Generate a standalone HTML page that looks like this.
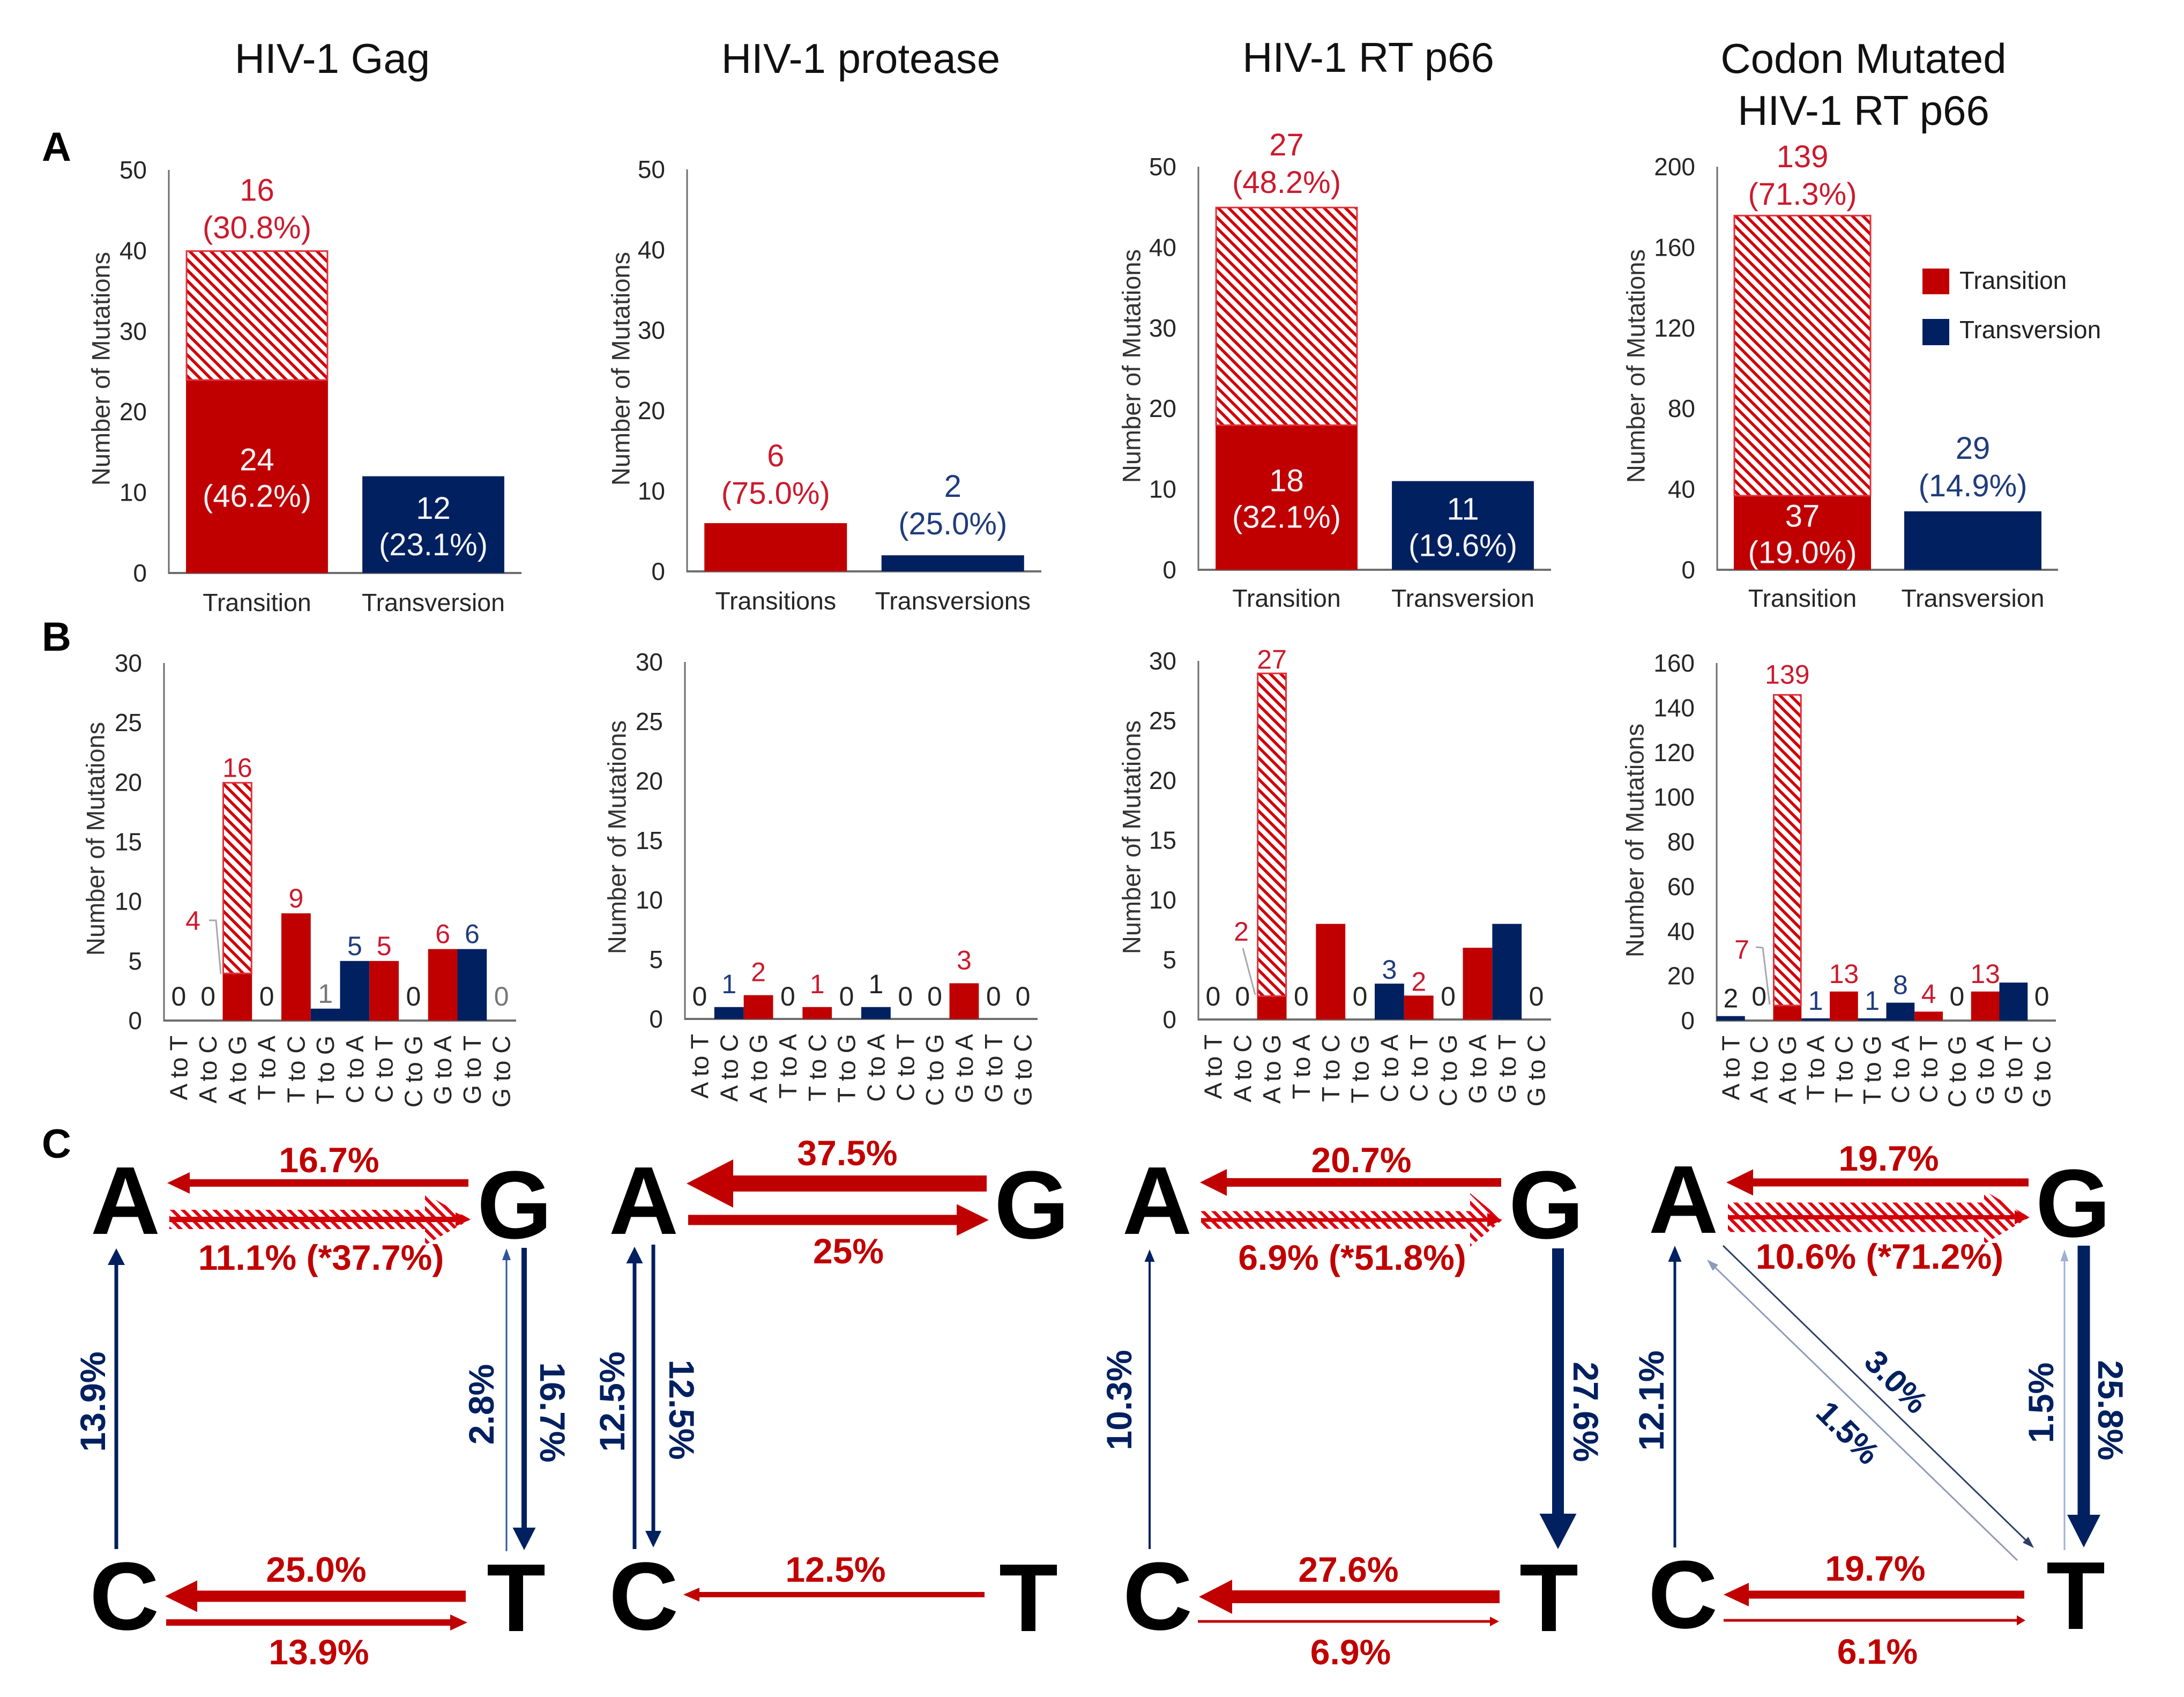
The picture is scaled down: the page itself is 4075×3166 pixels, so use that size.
<!DOCTYPE html>
<html lang="en">
<head>
<meta charset="utf-8">
<title>HIV-1 mutation spectra</title>
<style>
html,body{margin:0;padding:0;background:#fff;}
svg{display:block;}
text{font-family:"Liberation Sans",Arial,sans-serif;}
</style>
</head>
<body>
<svg id="figure" xmlns="http://www.w3.org/2000/svg" width="4075" height="3166" viewBox="0 0 4075 3166">
  <defs>
    <pattern id="hatch" patternUnits="userSpaceOnUse" width="14" height="14" patternTransform="rotate(-45)">
      <rect width="14" height="14" fill="#ffffff"/>
      <rect width="5.5" height="14" fill="#d00008"/>
    </pattern>
    <pattern id="hatch-arrow" patternUnits="userSpaceOnUse" width="14" height="14" patternTransform="rotate(-45)">
      <rect width="14" height="14" fill="#ffffff"/>
      <rect width="6" height="14" fill="#e00010"/>
    </pattern>
  </defs>
  <g font-size="78" fill="#111" text-anchor="middle">
    <text x="620" y="136">HIV-1 Gag</text>
    <text x="1606" y="136">HIV-1 protease</text>
    <text x="2553" y="134">HIV-1 RT p66</text>
    <text x="3477" y="136">Codon Mutated</text>
    <text x="3477" y="233">HIV-1 RT p66</text>
  </g>
  <g font-size="76" font-weight="700" fill="#000">
    <text x="78" y="300">A</text>
    <text x="78" y="1214">B</text>
    <text x="78" y="2160">C</text>
  </g>
  <g font-size="46" fill="#222">
    <rect x="3587" y="501" width="50" height="48" fill="#c00000"/>
    <text x="3656" y="539">Transition</text>
    <rect x="3587" y="595" width="50" height="49" fill="#002060"/>
    <text x="3656" y="631">Transversion</text>
  </g>
  <g id="charts"></g>
  <g id="diagrams"></g>
</svg>
<script>
// ---------- Row A data ----------
const gagACategories = ['Transition', 'Transversion'];
const gagASolid = [24, 12];
const gagAHatched = [16, 0];
const gagATicks = [0, 10, 20, 30, 40, 50];

const proteaseACategories = ['Transitions', 'Transversions'];
const proteaseASolid = [6, 2];
const proteaseAHatched = [0, 0];
const proteaseATicks = [0, 10, 20, 30, 40, 50];

const rtACategories = ['Transition', 'Transversion'];
const rtASolid = [18, 11];
const rtAHatched = [27, 0];
const rtATicks = [0, 10, 20, 30, 40, 50];

const codonACategories = ['Transition', 'Transversion'];
const codonASolid = [37, 29];
const codonAHatched = [139, 0];
const codonATicks = [0, 40, 80, 120, 160, 200];

// ---------- Row B data ----------
const mutationCategories = ['A to T', 'A to C', 'A to G', 'T to A', 'T to C', 'T to G', 'C to A', 'C to T', 'C to G', 'G to A', 'G to T', 'G to C'];
const mutationKinds = ['v', 'v', 's', 'v', 's', 'v', 'v', 's', 'v', 's', 'v', 'v'];

const gagBSolid = [0, 0, 4, 0, 9, 1, 5, 5, 0, 6, 6, 0];
const gagBHatched = [0, 0, 16, 0, 0, 0, 0, 0, 0, 0, 0, 0];
const gagBLabels = ['0', '0', '16', '0', '9', '1', '5', '5', '0', '6', '6', '0'];
const gagBTicks = [0, 5, 10, 15, 20, 25, 30];

const proteaseBSolid = [0, 1, 2, 0, 1, 0, 1, 0, 0, 3, 0, 0];
const proteaseBHatched = [0, 0, 0, 0, 0, 0, 0, 0, 0, 0, 0, 0];
const proteaseBLabels = ['0', '1', '2', '0', '1', '0', '1', '0', '0', '3', '0', '0'];
const proteaseBTicks = [0, 5, 10, 15, 20, 25, 30];

const rtBSolid = [0, 0, 2, 0, 8, 0, 3, 2, 0, 6, 8, 0];
const rtBHatched = [0, 0, 27, 0, 0, 0, 0, 0, 0, 0, 0, 0];
const rtBLabels = ['0', '0', '27', '0', '', '0', '3', '2', '0', '', '', '0'];
const rtBTicks = [0, 5, 10, 15, 20, 25, 30];

const codonBSolid = [2, 0, 7, 1, 13, 1, 8, 4, 0, 13, 17, 0];
const codonBHatched = [0, 0, 139, 0, 0, 0, 0, 0, 0, 0, 0, 0];
const codonBLabels = ['2', '0', '139', '1', '13', '1', '8', '4', '0', '13', '', '0'];
const codonBTicks = [0, 20, 40, 60, 80, 100, 120, 140, 160];

const RED = '#c00000', NAVY = '#002060', LRED = '#cb1a2d', LNAVY = '#1f3c7c', DARK = '#262626';
const SVGNS = 'http://www.w3.org/2000/svg';

function make(tag, parent, name, props, content) {
  const el = document.createElementNS(SVGNS, tag);
  
  
  for (const k in props) el.setAttribute(k, props[k]);
  if (content !== undefined) el.textContent = content;
  parent.appendChild(el);
  return el;
}
function label(parent, name, str, x, y, size, fill, extra) {
  return make('text', parent, name, Object.assign({x: x, y: y, 'font-size': size, fill: fill, 'text-anchor': 'middle'}, extra || {}), str);
}

function drawAxes(g, c, maxTick, ticks) {
  const y = v => c.y0 - v / maxTick * (c.y0 - c.yTop);
  ticks.forEach(t => {
    label(g, 'y-tick-' + t, String(t), c.x0 - 41, y(t), 46, DARK, {'text-anchor': 'end', 'dominant-baseline': 'central'});
  });
  make('line', g, 'y-axis', {x1: c.x0, x2: c.x0, y1: c.yTop, y2: c.y0 + 2, stroke: '#6e6e6e', 'stroke-width': 3});
  make('line', g, 'x-axis', {x1: c.x0 - 1, x2: c.x1, y1: c.y0, y2: c.y0, stroke: '#6e6e6e', 'stroke-width': 4});
  label(g, 'y-axis-title', 'Number of Mutations', 0, 0, 47, '#333', {transform: 'translate(' + c.titleX + ',' + c.titleY + ') rotate(-90)', 'dominant-baseline': 'central'});
  return y;
}

function drawRowA(name, categories, solid, hatched, ticks, c) {
  const root = document.getElementById('charts');
  const g = make('g', root, name, {});
  const y = drawAxes(g, c, ticks[ticks.length - 1], ticks);
  const step = (c.x1 - c.x0) / categories.length;
  const barW = step * 0.805;
  categories.forEach((cat, i) => {
    const cx = c.x0 + (i + 0.5) * step;
    const fill = i === 0 ? RED : NAVY;
    const textCol = i === 0 ? LRED : LNAVY;
    const solidTop = y(solid[i]);
    make('rect', g, 'bar-solid-' + cat.toLowerCase(), {x: cx - barW / 2, y: solidTop, width: barW, height: c.y0 - solidTop, fill: fill});
    let top = solidTop;
    if (hatched[i] > 0) {
      top = y(solid[i] + hatched[i]);
      make('rect', g, 'bar-hatched-' + cat.toLowerCase(), {x: cx - barW / 2 + 1, y: top + 1, width: barW - 2, height: solidTop - top, fill: 'url(#hatch)', stroke: '#e0303a', 'stroke-width': 3});
    }
    label(g, 'x-tick-' + cat.toLowerCase(), cat, cx, c.tickY, 46.5, DARK);
    const total = c.total;
    const pct = v => '(' + (v / total * 100).toFixed(1) + '%)';
    if (hatched[i] > 0) {
      label(g, 'value-hatched-' + i, String(hatched[i]), cx, top - c.lift[i] - 70, 58, textCol);
      label(g, 'percent-hatched-' + i, pct(hatched[i]), cx, top - c.lift[i], 58, textCol);
      label(g, 'value-solid-' + i, String(solid[i]), cx, (solidTop + c.y0) / 2 - 11, 58, '#f4f4f8');
      label(g, 'percent-solid-' + i, pct(solid[i]), cx, (solidTop + c.y0) / 2 + 57, 58, '#f4f4f8');
    } else if (c.inside[i]) {
      label(g, 'value-solid-' + i, String(solid[i]), cx, (solidTop + c.y0) / 2 - 11, 58, '#f4f4f8');
      label(g, 'percent-solid-' + i, pct(solid[i]), cx, (solidTop + c.y0) / 2 + 57, 58, '#f4f4f8');
    } else {
      label(g, 'value-solid-' + i, String(solid[i]), cx, top - c.lift[i] - 70, 58, textCol);
      label(g, 'percent-solid-' + i, pct(solid[i]), cx, top - c.lift[i], 58, textCol);
    }
  });
}

function drawRowB(name, solid, hatched, labels, ticks, c) {
  const root = document.getElementById('charts');
  const g = make('g', root, name, {});
  const y = drawAxes(g, c, ticks[ticks.length - 1], ticks);
  const step = (c.x1 - c.x0) / mutationCategories.length;
  mutationCategories.forEach((cat, i) => {
    const x = c.x0 + i * step;
    const cx = x + step / 2;
    const kind = mutationKinds[i];
    const slug = cat.toLowerCase().replace(/ /g, '-');
    const solidTop = y(solid[i]);
    if (solid[i] > 0) {
      make('rect', g, 'bar-' + slug, {x: x, y: solidTop, width: step, height: c.y0 - solidTop, fill: kind === 's' ? RED : NAVY});
    }
    let top = solidTop;
    if (hatched[i] > 0) {
      top = y(solid[i] + hatched[i]);
      make('rect', g, 'bar-hatched-' + slug, {x: x + 1, y: top + 1, width: step - 2, height: solidTop - top, fill: 'url(#hatch)', stroke: '#e0303a', 'stroke-width': 3});
    }
    label(g, 'x-tick-' + slug, cat, 0, 0, 46.5, DARK, {'text-anchor': 'end', 'dominant-baseline': 'central', transform: 'translate(' + cx + ',' + (c.y0 + 28) + ') rotate(-90)'});
    const str = labels[i];
    if (str !== '') {
      const zero = str === '0';
      const muted = c.muted.indexOf(i) >= 0;
      const col = muted ? '#777' : (zero ? DARK : (c.dark.indexOf(i) >= 0 ? '#222' : (kind === 's' ? LRED : LNAVY)));
      const lift = zero ? c.zeroLift : (hatched[i] > 0 ? c.hatchLift : c.lift);
      label(g, 'value-' + slug, str, cx, top - lift, 50, col);
    }
    if (hatched[i] > 0) {
      label(g, 'value-solid-' + slug, String(solid[i]), c.callout.x, c.callout.y, 50, LRED);
      make('polyline', g, 'callout-leader-' + slug, {points: c.callout.line, fill: 'none', stroke: '#a8a8a8', 'stroke-width': 3});
    }
  });
}

drawRowA('chart-a-gag', gagACategories, gagASolid, gagAHatched, gagATicks, {x0: 315, x1: 973, y0: 1069, yTop: 317, titleX: 188, titleY: 688, tickY: 1140, total: 52, lift: [23, 0], inside: [true, true]});
drawRowA('chart-a-protease', proteaseACategories, proteaseASolid, proteaseAHatched, proteaseATicks, {x0: 1282, x1: 1943, y0: 1066, yTop: 316, titleX: 1158, titleY: 688, tickY: 1137, total: 8, lift: [36, 39], inside: [false, false]});
drawRowA('chart-a-rt', rtACategories, rtASolid, rtAHatched, rtATicks, {x0: 2236, x1: 2894, y0: 1063, yTop: 311, titleX: 2111, titleY: 683, tickY: 1132, total: 56, lift: [26, 0], inside: [true, true]});
drawRowA('chart-a-codon', codonACategories, codonASolid, codonAHatched, codonATicks, {x0: 3204, x1: 3840, y0: 1063, yTop: 311, titleX: 3052, titleY: 683, tickY: 1132, total: 195, lift: [19, 28], inside: [true, false]});

drawRowB('chart-b-gag', gagBSolid, gagBHatched, gagBLabels, gagBTicks, {x0: 306, x1: 963, y0: 1904, yTop: 1237, titleX: 178, titleY: 1565, lift: 11, zeroLift: 28, hatchLift: 10, dark: [], muted: [5, 11], callout: {x: 360, y: 1735, line: '390,1717 403,1717 412,1817'}});
drawRowB('chart-b-protease', proteaseBSolid, proteaseBHatched, proteaseBLabels, proteaseBTicks, {x0: 1278, x1: 1936, y0: 1901, yTop: 1235, titleX: 1151, titleY: 1562, lift: 26, zeroLift: 25, hatchLift: 10, dark: [6], muted: []});
drawRowB('chart-b-rt', rtBSolid, rtBHatched, rtBLabels, rtBTicks, {x0: 2236, x1: 2894, y0: 1902, yTop: 1233, titleX: 2111, titleY: 1562, lift: 9, zeroLift: 26, hatchLift: 8, dark: [], muted: [], callout: {x: 2316, y: 1755, line: '2319,1769 2342,1856'}});
drawRowB('chart-b-codon', codonBSolid, codonBHatched, codonBLabels, codonBTicks, {x0: 3203, x1: 3836, y0: 1904, yTop: 1237, titleX: 3050, titleY: 1568, lift: 16, zeroLift: 28, hatchLift: 20, dark: [0], muted: [], callout: {x: 3250, y: 1789, line: '3276,1767 3289,1768 3302,1874'}});

// ---------- Row C diagrams ----------
const diagrams = document.getElementById('diagrams');

function arrow(g, name, x1, y1, x2, y2, shaft, headW, headLen, color) {
  const L = Math.hypot(x2 - x1, y2 - y1);
  const ux = (x2 - x1) / L, uy = (y2 - y1) / L;
  const nx = -uy, ny = ux;
  const bx = x2 - ux * headLen, by = y2 - uy * headLen;
  const pts = [
    [x1 + nx * shaft / 2, y1 + ny * shaft / 2],
    [bx + nx * shaft / 2, by + ny * shaft / 2],
    [bx + nx * headW / 2, by + ny * headW / 2],
    [x2, y2],
    [bx - nx * headW / 2, by - ny * headW / 2],
    [bx - nx * shaft / 2, by - ny * shaft / 2],
    [x1 - nx * shaft / 2, y1 - ny * shaft / 2]
  ].map(p => p[0].toFixed(1) + ',' + p[1].toFixed(1)).join(' ');
  make('polygon', g, name, {points: pts, fill: color});
}
function hatchedArrow(g, name, x1, x2, y, band, headW, headLen, line) {
  const b = x2 - headLen;
  const pts = [[x1, y - band / 2], [b, y - band / 2], [b, y - headW / 2], [x2, y], [b, y + headW / 2], [b, y + band / 2], [x1, y + band / 2]]
    .map(p => p.join(',')).join(' ');
  make('polygon', g, name + '-hatch', {points: pts, fill: 'url(#hatch-arrow)'});
  arrow(g, name, x1, y, x2, y, line, 26, 28, '#d00008');
}
function base(g, letter, x, y) {
  label(g, 'base-' + letter.toLowerCase(), letter, x, y, 180, '#000', {'font-weight': 700});
}
function pctText(g, name, str, x, y, color, angle) {
  const extra = {'font-weight': 700};
  if (angle) {
    extra.transform = 'translate(' + x + ',' + y + ') rotate(' + angle + ')';
    extra['dominant-baseline'] = 'central';
    return label(g, name, str, 0, 0, angle === 45 ? 60 : 66, color, extra);
  }
  return label(g, name, str, x, y, 66, color, extra);
}

// Gag
(function () {
  const g = make('g', diagrams, 'diagram-gag', {});
  base(g, 'A', 234, 2302); base(g, 'G', 960, 2310); base(g, 'C', 232, 3040); base(g, 'T', 963, 3043);
  arrow(g, 'arrow-g-to-a', 874, 2207, 312, 2207, 14, 40, 42, RED);
  hatchedArrow(g, 'arrow-a-to-g', 316, 878, 2275, 36, 96, 85, 10);
  arrow(g, 'arrow-c-to-a', 217, 2890, 217, 2329, 7, 32, 31, NAVY);
  arrow(g, 'arrow-t-to-g', 945, 2894, 945, 2329, 3, 16, 22, '#2f5597');
  arrow(g, 'arrow-g-to-t', 978, 2328, 978, 2892, 10, 43, 42, NAVY);
  arrow(g, 'arrow-t-to-c', 869, 2978, 308, 2978, 21, 59, 60, RED);
  arrow(g, 'arrow-c-to-t', 310, 3027, 872, 3027, 12, 30, 32, RED);
  pctText(g, 'label-g-to-a', '16.7%', 614, 2187, RED);
  pctText(g, 'label-a-to-g', '11.1% (*37.7%)', 599, 2369, RED);
  pctText(g, 'label-c-to-a', '13.9%', 173, 2615, NAVY, -90);
  pctText(g, 'label-t-to-g', '2.8%', 898, 2620, NAVY, -90);
  pctText(g, 'label-g-to-t', '16.7%', 1031, 2635, NAVY, 90);
  pctText(g, 'label-t-to-c', '25.0%', 590, 2951, RED);
  pctText(g, 'label-c-to-t', '13.9%', 595, 3105, RED);
})();

// Protease
(function () {
  const g = make('g', diagrams, 'diagram-protease', {});
  base(g, 'A', 1201, 2302); base(g, 'G', 1925, 2310); base(g, 'C', 1201, 3040); base(g, 'T', 1919, 3043);
  arrow(g, 'arrow-g-to-a', 1841, 2208, 1281, 2208, 30, 90, 87, RED);
  arrow(g, 'arrow-a-to-g', 1284, 2276, 1845, 2276, 19, 59, 60, RED);
  arrow(g, 'arrow-c-to-a', 1184, 2890, 1184, 2326, 7, 31, 31, NAVY);
  arrow(g, 'arrow-a-to-c', 1219, 2322, 1219, 2887, 7, 30, 31, NAVY);
  arrow(g, 'arrow-t-to-c', 1837, 2975, 1275, 2975, 10, 26, 30, RED);
  pctText(g, 'label-g-to-a', '37.5%', 1581, 2174, RED);
  pctText(g, 'label-a-to-g', '25%', 1583, 2357, RED);
  pctText(g, 'label-c-to-a', '12.5%', 1142, 2615, NAVY, -90);
  pctText(g, 'label-a-to-c', '12.5%', 1272, 2630, NAVY, 90);
  pctText(g, 'label-t-to-c', '12.5%', 1559, 2951, RED);
})();

// RT p66
(function () {
  const g = make('g', diagrams, 'diagram-rt', {});
  base(g, 'A', 2159, 2302); base(g, 'G', 2885, 2310); base(g, 'C', 2160, 3040); base(g, 'T', 2890, 3043);
  arrow(g, 'arrow-g-to-a', 2801, 2206, 2239, 2206, 16, 50, 50, RED);
  hatchedArrow(g, 'arrow-a-to-g', 2241, 2803, 2276, 33, 100, 60, 7);
  arrow(g, 'arrow-c-to-a', 2145, 2890, 2145, 2331, 4, 19, 23, NAVY);
  arrow(g, 'arrow-g-to-t', 2907, 2329, 2907, 2890, 22, 69, 66, NAVY);
  arrow(g, 'arrow-t-to-c', 2798, 2979, 2237, 2979, 24, 64, 62, RED);
  arrow(g, 'arrow-c-to-t', 2235, 3025, 2797, 3025, 5, 18, 17, RED);
  pctText(g, 'label-g-to-a', '20.7%', 2540, 2187, RED);
  pctText(g, 'label-a-to-g', '6.9% (*51.8%)', 2523, 2369, RED);
  pctText(g, 'label-c-to-a', '10.3%', 2088, 2612, NAVY, -90);
  pctText(g, 'label-g-to-t', '27.6%', 2959, 2634, NAVY, 90);
  pctText(g, 'label-t-to-c', '27.6%', 2516, 2951, RED);
  pctText(g, 'label-c-to-t', '6.9%', 2520, 3105, RED);
})();

// Codon mutated RT p66
(function () {
  const g = make('g', diagrams, 'diagram-codon', {});
  base(g, 'A', 3141, 2300); base(g, 'G', 3868, 2307); base(g, 'C', 3140, 3037); base(g, 'T', 3873, 3039);
  arrow(g, 'arrow-g-to-a', 3785, 2206, 3221, 2206, 15, 49, 50, RED);
  hatchedArrow(g, 'arrow-a-to-g', 3224, 3787, 2271, 55, 100, 85, 8);
  arrow(g, 'arrow-c-to-a', 3125, 2887, 3125, 2324, 5, 25, 30, NAVY);
  arrow(g, 'arrow-a-to-t', 3215, 2324, 3795, 2888, 3, 15, 22, '#2b3f66');
  arrow(g, 'arrow-t-to-a', 3764, 2911, 3185, 2350, 3, 15, 22, '#8d9ab8');
  arrow(g, 'arrow-t-to-g', 3852, 2892, 3852, 2331, 3, 15, 22, '#9fb0d0');
  arrow(g, 'arrow-g-to-t', 3888, 2324, 3888, 2887, 23, 62, 61, NAVY);
  arrow(g, 'arrow-t-to-c', 3777, 2975, 3216, 2975, 15, 44, 47, RED);
  arrow(g, 'arrow-c-to-t', 3216, 3023, 3779, 3023, 5, 19, 16, RED);
  pctText(g, 'label-g-to-a', '19.7%', 3524, 2184, RED);
  pctText(g, 'label-a-to-g', '10.6% (*71.2%)', 3507, 2367, RED);
  pctText(g, 'label-c-to-a', '12.1%', 3081, 2613, NAVY, -90);
  pctText(g, 'label-a-to-t', '3.0%', 3538, 2578, NAVY, 45);
  pctText(g, 'label-t-to-a', '1.5%', 3448, 2673, NAVY, 45);
  pctText(g, 'label-t-to-g', '1.5%', 3808, 2617, NAVY, -90);
  pctText(g, 'label-g-to-t', '25.8%', 3938, 2631, NAVY, 90);
  pctText(g, 'label-t-to-c', '19.7%', 3499, 2949, RED);
  pctText(g, 'label-c-to-t', '6.1%', 3503, 3104, RED);
})();
</script>
</body>
</html>
